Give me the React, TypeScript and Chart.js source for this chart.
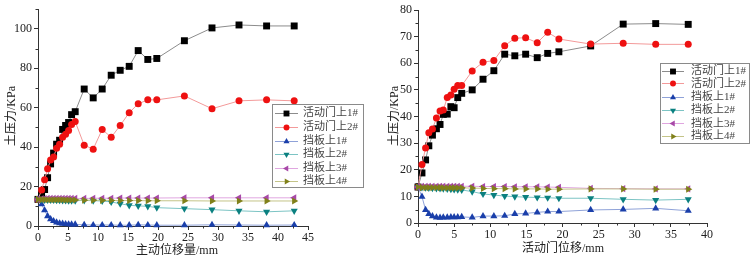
import React, { useEffect, useRef } from 'react';
import { Chart, registerables } from 'chart.js';

Chart.register(...registerables);

const seriesNames = ['活动门上1#', '活动门上2#', '挡板上1#', '挡板上2#', '挡板上3#', '挡板上4#'];
const markerColors = ['#000000', '#ee1111', '#1a3faa', '#0b8080', '#a848a8', '#80801a'];
const lineColors = ['#8c8c8c', '#f39a9a', '#8fa2d8', '#7cc4c4', '#e0a6e0', '#c4c488'];
const pointStyles = ['rect', 'circle', 'triangle', 'triangle', 'triangle', 'triangle'];
const pointRotations = [0, 0, 0, 180, -90, 90];
const pointRadii = [4.9, 3.5, 4.1, 4.1, 4.1, 4.1];

// ---- Left chart: 主动位移量/mm ----
const leftX = [0, 0.6, 1.1, 1.6, 2.1, 2.6, 3.1, 3.6, 4.1, 4.6, 5.1, 5.6, 6.2, 7.7, 9.2, 10.7, 12.2, 13.7, 15.2, 16.7, 18.3, 19.8, 24.4, 29, 33.5, 38.1, 42.7];
const leftGate1 = [13.5, 16, 18.5, 24.5, 31.5, 37, 41.5, 43.5, 49, 51, 52.5, 56.5, 58, 69.5, 65, 69.5, 76.5, 79, 81, 89, 84.5, 85, 94, 100.5, 102, 101.5, 101.5];
const leftGate2 = [13.5, 18.3, 23.5, 29, 33.5, 35, 39.5, 41.5, 45, 46.5, 48.5, 51.5, 53, 41, 39, 49, 45, 51, 57.5, 62, 64, 64, 66, 59.5, 63.5, 64, 63.5];
const leftPlate1 = [13.5, 11, 8, 5, 3.5, 2.5, 1.8, 1.4, 1.2, 1.0, 0.9, 0.8, 0.8, 0.6, 0.5, 0.5, 0.5, 0.4, 0.4, 0.6, 0.5, 0.4, 0.4, 0.6, 0.5, 0.4, 0.5];
const leftPlate2 = [13.5, 13.4, 13.3, 13.3, 13.2, 13.2, 13.1, 13.1, 13, 13, 12.9, 12.9, 12.8, 13, 12.8, 12.7, 12.2, 11.3, 10.5, 10.2, 10, 9.3, 8.8, 8.3, 7.7, 7.2, 7.7];
const leftPlate3 = [13.5, 13.8, 13.9, 14, 14, 14, 14, 14, 14, 14, 14, 14, 14, 14, 14.1, 14.1, 14.1, 14.2, 14.2, 14.2, 14.2, 14.2, 14.3, 14.3, 14.3, 14.3, 14.3];
const leftPlate4 = [13.5, 13.4, 13.4, 13.3, 13.3, 13.3, 13.3, 13.3, 13.3, 13.2, 13.2, 13.2, 13.2, 13.1, 13.1, 13, 13, 12.9, 12.9, 12.9, 12.8, 12.8, 12.8, 12.7, 12.7, 12.7, 12.7];
const leftXTicks = [0, 5, 10, 15, 20, 25, 30, 35, 40, 45];
const leftXMinor = [2.5, 7.5, 12.5, 17.5, 22.5, 27.5, 32.5, 37.5, 42.5];
const leftYTicks = [0, 20, 40, 60, 80, 100];
const leftYMinor = [10, 30, 50, 70, 90, 110];

// ---- Right chart: 活动门位移/mm ----
const rightX = [0, 0.55, 1.05, 1.5, 2.0, 2.55, 3.05, 3.5, 4.05, 4.55, 5.0, 5.5, 6.05, 7.5, 9, 10.5, 12, 13.4, 14.9, 16.5, 17.95, 19.5, 23.9, 28.4, 32.9, 37.4];
const rightGate1 = [13.5, 18.8, 23.7, 29, 33, 35.4, 37, 40.8, 40.9, 43.7, 43.3, 47.1, 48.7, 50, 54, 57.2, 63.4, 62.8, 63.4, 62.1, 63.7, 64.3, 66.5, 74.7, 74.9, 74.6];
const rightGate2 = [13.5, 22, 28.2, 33.9, 35.3, 39.4, 42.1, 42.4, 47.1, 48.1, 50.2, 51.6, 51.6, 57.1, 60.4, 61, 66.6, 69.4, 69.6, 67.7, 71.6, 69.1, 67.2, 67.5, 67.1, 67.1];
const rightPlate1 = [13.5, 9.9, 4.9, 3.4, 2.6, 2.1, 2.0, 2.1, 2.1, 2.2, 2.2, 2.2, 2.3, 2.1, 2.6, 2.6, 2.7, 3.4, 3.6, 4.0, 4.3, 4.3, 4.9, 5.1, 5.5, 4.6];
const rightPlate2 = [13.5, 13.4, 13.3, 13.2, 13.1, 13, 13, 12.9, 12.8, 12.7, 12.6, 12.5, 12.4, 11.8, 10.9, 10.5, 10.1, 9.9, 9.7, 9.6, 9.5, 9.3, 9.3, 8.9, 8.6, 8.9];
const rightPlate3 = [13.5, 13.8, 13.8, 13.8, 13.8, 13.8, 13.8, 13.8, 13.8, 13.8, 13.8, 13.8, 13.8, 13.8, 13.7, 13.7, 13.7, 13.6, 13.6, 13.6, 13.5, 13.4, 13.0, 12.9, 12.8, 12.8];
const rightPlate4 = [13.5, 13.3, 13.3, 13.3, 13.3, 13.3, 13.3, 13.2, 13.2, 13.2, 13.2, 13.2, 13.2, 13.1, 13.0, 12.9, 12.9, 12.8, 12.8, 12.8, 12.7, 12.7, 12.8, 12.8, 12.7, 12.7];
const rightXTicks = [0, 5, 10, 15, 20, 25, 30, 35, 40];
const rightXMinor = [2.5, 7.5, 12.5, 17.5, 22.5, 27.5, 32.5, 37.5];
const rightYTicks = [0, 10, 20, 30, 40, 50, 60, 70, 80];
const rightYMinor = [5, 15, 25, 35, 45, 55, 65, 75];

const TICK_FONT = "'Liberation Serif', 'Times New Roman', serif";
const MIX_FONT = "'Liberation Serif', 'Noto Sans CJK SC', serif";

function drawMarker(ctx: CanvasRenderingContext2D, style: string, rotDeg: number, r: number, x: number, y: number, color: string) {
  ctx.fillStyle = color;
  ctx.beginPath();
  if (style === 'circle') {
    ctx.arc(x, y, r, 0, Math.PI * 2);
  } else if (style === 'rect') {
    const s = Math.SQRT1_2 * r;
    ctx.rect(x - s, y - s, 2 * s, 2 * s);
  } else {
    let rad = (rotDeg * Math.PI) / 180;
    const T = (2 * Math.PI) / 3;
    ctx.moveTo(x + Math.sin(rad) * r, y - Math.cos(rad) * r);
    rad += T;
    ctx.lineTo(x + Math.sin(rad) * r, y - Math.cos(rad) * r);
    rad += T;
    ctx.lineTo(x + Math.sin(rad) * r, y - Math.cos(rad) * r);
    ctx.closePath();
  }
  ctx.fill();
}

const overlayPlugin = {
  id: 'overlay',
  afterDraw(chart: any, _args: any, o: any) {
    const ctx: CanvasRenderingContext2D = chart.ctx;
    const xs = chart.scales.x;
    const ys = chart.scales.y;
    const a = chart.chartArea;
    ctx.save();
    // minor ticks
    ctx.strokeStyle = '#333';
    ctx.lineWidth = 1;
    ctx.beginPath();
    o.xMinor.forEach((v: number) => {
      const px = Math.round(xs.getPixelForValue(v)) + 0.5;
      ctx.moveTo(px, a.bottom);
      ctx.lineTo(px, a.bottom + 2.5);
    });
    o.yMinor.forEach((v: number) => {
      const py = Math.round(ys.getPixelForValue(v)) + 0.5;
      ctx.moveTo(a.left - 2.5, py);
      ctx.lineTo(a.left, py);
    });
    ctx.stroke();
    // axis titles
    ctx.fillStyle = '#222';
    ctx.font = `12px ${MIX_FONT}`;
    ctx.textAlign = 'center';
    ctx.textBaseline = 'middle';
    ctx.fillText(o.xTitle, o.xTitlePos[0], o.xTitlePos[1]);
    ctx.save();
    ctx.translate(o.yTitlePos[0], o.yTitlePos[1]);
    ctx.rotate(-Math.PI / 2);
    ctx.fillText(o.yTitle, 0, 0);
    ctx.restore();
    // legend
    const L = o.legend;
    ctx.fillStyle = '#ffffff';
    ctx.fillRect(L.x, L.y, L.w, L.h);
    ctx.strokeStyle = '#8a8a8a';
    ctx.strokeRect(L.x + 0.5, L.y + 0.5, L.w, L.h);
    seriesNames.forEach((name, i) => {
      const y = L.rows[i];
      ctx.strokeStyle = lineColors[i];
      ctx.lineWidth = 1;
      ctx.beginPath();
      ctx.moveTo(L.lx1, Math.round(y) + 0.5);
      ctx.lineTo(L.lx2, Math.round(y) + 0.5);
      ctx.stroke();
      drawMarker(ctx, pointStyles[i], pointRotations[i], pointRadii[i] * 0.85, (L.lx1 + L.lx2) / 2, Math.round(y) + 0.5, markerColors[i]);
      ctx.fillStyle = '#444';
      ctx.font = `11px ${MIX_FONT}`;
      ctx.textAlign = 'left';
      ctx.textBaseline = 'middle';
      ctx.fillText(name, L.tx, y + 0.5);
    });
    ctx.restore();
  },
};

type PanelCfg = {
  W: number;
  H: number;
  left: number;
  right: number;
  top: number;
  bottom: number;
  xMax: number;
  yMax: number;
  xTicks: number[];
  yTicks: number[];
  xMinor: number[];
  yMinor: number[];
  xs: number[];
  series: number[][];
  xTitle: string;
  yTitle: string;
  xTitlePos: [number, number];
  yTitlePos: [number, number];
  legend: any;
};

function ChartPanel({ cfg, x }: { cfg: PanelCfg; x: number }) {
  const ref = useRef<HTMLCanvasElement>(null);
  useEffect(() => {
    if (!ref.current) return;
    const datasets = cfg.series.map((ys, i) => ({
      label: seriesNames[i],
      data: cfg.xs.map((xv, j) => ({ x: xv, y: ys[j] })),
      showLine: true,
      borderColor: lineColors[i],
      borderWidth: 1,
      backgroundColor: markerColors[i],
      pointBackgroundColor: markerColors[i],
      pointBorderWidth: 0,
      pointStyle: pointStyles[i],
      pointRotation: pointRotations[i],
      pointRadius: pointRadii[i],
      pointHoverRadius: pointRadii[i],
      order: 6 - i,
      clip: false,
      tension: 0,
    }));
    const chart = new Chart(ref.current, {
      type: 'scatter',
      data: { datasets },
      plugins: [overlayPlugin],
      options: {
        responsive: false,
        animation: false,
        devicePixelRatio: 1,
        layout: { padding: { left: 0, top: cfg.top, right: cfg.W - cfg.right, bottom: 0 } },
        plugins: {
          legend: { display: false },
          tooltip: { enabled: false },
          overlay: {
            xMinor: cfg.xMinor,
            yMinor: cfg.yMinor,
            xTitle: cfg.xTitle,
            yTitle: cfg.yTitle,
            xTitlePos: cfg.xTitlePos,
            yTitlePos: cfg.yTitlePos,
            legend: cfg.legend,
          },
        } as any,
        scales: {
          x: {
            type: 'linear',
            min: 0,
            max: cfg.xMax,
            afterBuildTicks: (s: any) => {
              s.ticks = cfg.xTicks.map((v) => ({ value: v }));
            },
            afterFit: (s: any) => {
              s.height = cfg.H - cfg.bottom;
            },
            ticks: { font: { family: TICK_FONT, size: 12 }, color: '#222', padding: 1, maxRotation: 0, autoSkip: false },
            grid: { drawOnChartArea: false, drawTicks: true, tickLength: 4, tickColor: '#333' },
            border: { display: true, color: '#333', width: 1 },
          },
          y: {
            type: 'linear',
            min: 0,
            max: cfg.yMax,
            afterBuildTicks: (s: any) => {
              s.ticks = cfg.yTicks.map((v) => ({ value: v }));
            },
            afterFit: (s: any) => {
              s.width = cfg.left;
            },
            ticks: { font: { family: TICK_FONT, size: 12 }, color: '#222', padding: 2, autoSkip: false },
            grid: { drawOnChartArea: false, drawTicks: true, tickLength: 4, tickColor: '#333' },
            border: { display: true, color: '#333', width: 1 },
          },
        },
      } as any,
    });
    return () => chart.destroy();
  }, [cfg]);
  return (
    <canvas
      ref={ref}
      width={cfg.W}
      height={cfg.H}
      style={{ position: 'absolute', left: x, top: 0, width: cfg.W, height: cfg.H }}
    />
  );
}

const leftCfg: PanelCfg = {
  W: 375,
  H: 260,
  left: 38,
  right: 308,
  top: 6,
  bottom: 226,
  xMax: 45,
  yMax: 110,
  xTicks: leftXTicks,
  yTicks: leftYTicks,
  xMinor: leftXMinor,
  yMinor: leftYMinor,
  xs: leftX,
  series: [leftGate1, leftGate2, leftPlate1, leftPlate2, leftPlate3, leftPlate4],
  xTitle: '主动位移量/mm',
  yTitle: '土压力/KPa',
  xTitlePos: [177, 251],
  yTitlePos: [12, 116],
  legend: { x: 272, y: 104, w: 91, h: 83, rows: [113, 127, 141, 154, 168, 181], lx1: 275, lx2: 298, tx: 303 },
};

const rightCfg: PanelCfg = {
  W: 376,
  H: 260,
  left: 43,
  right: 332,
  top: 10,
  bottom: 223,
  xMax: 40,
  yMax: 80,
  xTicks: rightXTicks,
  yTicks: rightYTicks,
  xMinor: rightXMinor,
  yMinor: rightYMinor,
  xs: rightX,
  series: [rightGate1, rightGate2, rightPlate1, rightPlate2, rightPlate3, rightPlate4],
  xTitle: '活动门位移/mm',
  yTitle: '土压力/KPa',
  xTitlePos: [188, 249],
  yTitlePos: [20, 116],
  legend: { x: 285, y: 63, w: 89, h: 80, rows: [70.7, 83.3, 96.7, 110, 123.3, 136], lx1: 287, lx2: 309, tx: 316 },
};

export default function App() {
  return (
    <div style={{ position: 'fixed', left: 0, top: 0, width: 751, height: 260, background: '#fff', overflow: 'hidden' }}>
      <ChartPanel cfg={leftCfg} x={0} />
      <ChartPanel cfg={rightCfg} x={375} />
    </div>
  );
}
